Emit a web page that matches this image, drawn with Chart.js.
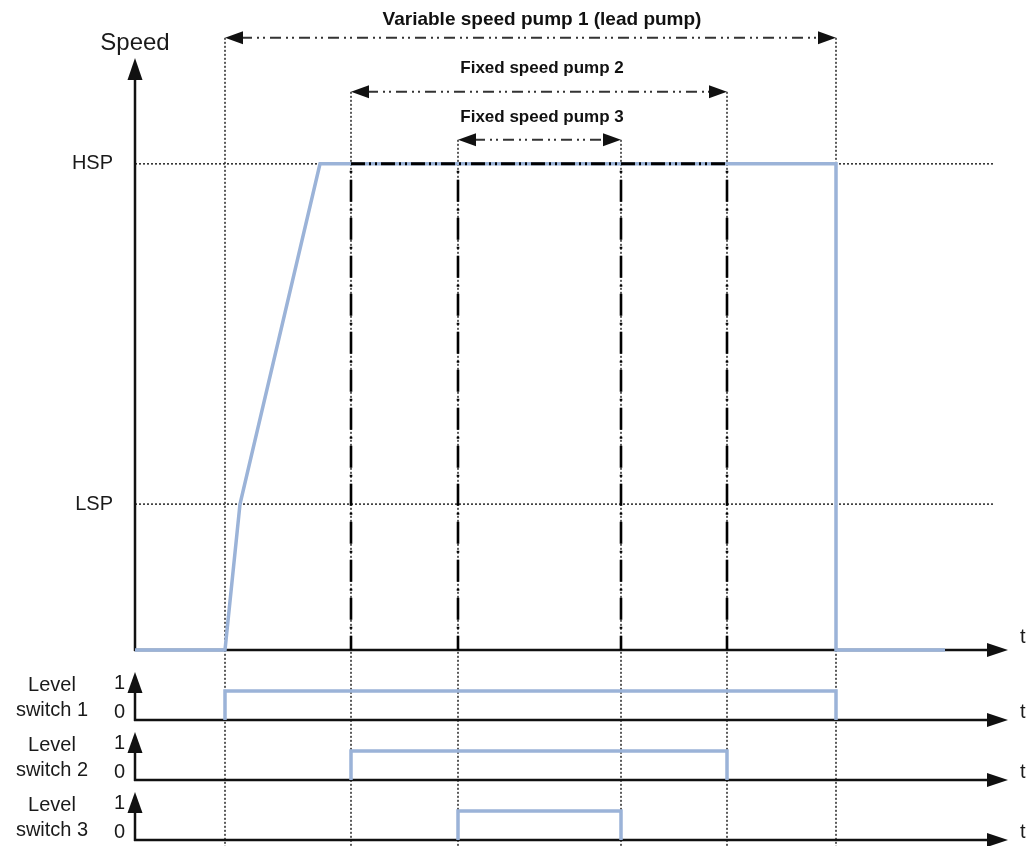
<!DOCTYPE html>
<html>
<head>
<meta charset="utf-8">
<title>Pump staging timing</title>
<script src="https://cdn.jsdelivr.net/npm/chart.js@4.4.0/dist/chart.umd.min.js"></script>
<style>
    html, body { margin: 0; padding: 0; background: #fff; }
    #wrap { position: relative; width: 1029px; height: 846px; }
</style>
</head>
<body>
<div id="wrap"><canvas id="pumpChart" width="1029" height="846"></canvas></div>
<script>
// Pump staging: speed of lead pump + level switches over time
const pumpNames = ['Variable speed pump 1 (lead pump)', 'Fixed speed pump 2', 'Fixed speed pump 3'];
const pumpStart = [9.0, 21.6, 32.3];
const pumpStop = [70.1, 59.2, 48.6];

const speedTime = [0, 9.0, 10.5, 18.5, 70.1, 70.1, 81.0];
const speedValue = [0, 0, 15, 50, 50, 0, 0];

const speedTicks = [15, 50];
const speedTickLabels = ['LSP', 'HSP'];

const switchNames = ['switch 1', 'switch 2', 'switch 3'];
const switchTicks = [0, 1];

const FONT = '"Liberation Sans", Arial, sans-serif';
const BLUE = '#9bb3d8';
const INK = '#111';

function arrowHead(ctx, x, y, dir, len, half) {
    ctx.beginPath();
    ctx.moveTo(x, y);
    if (dir === 'up') {
        ctx.lineTo(x - half, y + len);
        ctx.lineTo(x + half, y + len);
    } else if (dir === 'right') {
        ctx.lineTo(x - len, y - half);
        ctx.lineTo(x - len, y + half);
    } else {
        ctx.lineTo(x + len, y - half);
        ctx.lineTo(x + len, y + half);
    }
    ctx.closePath();
    ctx.fill();
}

function line(ctx, x1, y1, x2, y2) {
    ctx.beginPath();
    ctx.moveTo(x1, y1);
    ctx.lineTo(x2, y2);
    ctx.stroke();
}

// stacked axes all share the same fixed width and no label padding
function fixAxisBox(s) {
    s.width = 135;
    s.paddingTop = 0;
    s.paddingBottom = 0;
}

const diagramPlugin = {
    id: 'diagram',
    beforeDatasetsDraw(chart) {
        const { ctx, scales } = chart;
        const xs = scales.x, ys = scales.y;
        const sw = [scales.s1, scales.s2, scales.s3];
        const left = chart.chartArea.left;
        const tipX = xs.right - 21;
        const hspY = ys.getPixelForValue(speedTicks[1]);
        const zeroY = ys.getPixelForValue(0);
        const arrowY = [hspY - 126, hspY - 72, hspY - 24];
        const labelY = [hspY - 144, hspY - 96, hspY - 47];

        ctx.save();

        // dotted event lines
        ctx.strokeStyle = '#333';
        ctx.lineWidth = 1.6;
        ctx.setLineDash([2, 2]);
        pumpStart.forEach((t, i) => {
            line(ctx, xs.getPixelForValue(t), arrowY[i], xs.getPixelForValue(t), chart.height);
            line(ctx, xs.getPixelForValue(pumpStop[i]), arrowY[i], xs.getPixelForValue(pumpStop[i]), chart.height);
        });

        // HSP / LSP reference lines
        speedTicks.forEach(v => {
            const y = ys.getPixelForValue(v);
            line(ctx, left, y, xs.right - 34, y);
        });

        // pump running spans
        ctx.fillStyle = INK;
        pumpStart.forEach((t, i) => {
            const x1 = xs.getPixelForValue(t);
            const x2 = xs.getPixelForValue(pumpStop[i]);
            ctx.strokeStyle = '#333';
            ctx.lineWidth = 2;
            ctx.setLineDash([11, 5, 2, 4, 2, 5]);
            line(ctx, x1 + 16, arrowY[i], x2 - 16, arrowY[i]);
            ctx.setLineDash([]);
            arrowHead(ctx, x1, arrowY[i], 'left', 18, 6.5);
            arrowHead(ctx, x2, arrowY[i], 'right', 18, 6.5);

            ctx.font = (i === 0 ? 'bold 19px ' : 'bold 17px ') + FONT;
            ctx.textAlign = 'center';
            ctx.textBaseline = 'middle';
            ctx.fillText(pumpNames[i], xs.getPixelForValue(40.7), labelY[i]);
        });

        // axes
        ctx.setLineDash([]);
        ctx.strokeStyle = INK;
        ctx.lineWidth = 2.5;
        line(ctx, left, zeroY + 1, left, 76);
        arrowHead(ctx, left, 58, 'up', 22, 7.5);
        line(ctx, left - 1, zeroY, tipX - 18, zeroY);
        arrowHead(ctx, tipX, zeroY, 'right', 21, 7);

        sw.forEach(s => {
            const y0 = s.getPixelForValue(0);
            line(ctx, left, y0 + 1, left, y0 - 32);
            arrowHead(ctx, left, y0 - 48, 'up', 21, 7.5);
            line(ctx, left - 1, y0, tipX - 18, y0);
            arrowHead(ctx, tipX, y0, 'right', 21, 7);
        });

        // texts
        ctx.fillStyle = '#1a1a1a';
        ctx.font = '24px ' + FONT;
        ctx.textAlign = 'center';
        ctx.textBaseline = 'alphabetic';
        ctx.fillText('Speed', left, 50);

        ctx.font = '20px ' + FONT;
        ctx.textAlign = 'left';
        ctx.textBaseline = 'middle';
        ctx.fillText('t', 1020, zeroY - 12);
        sw.forEach(s => ctx.fillText('t', 1020, s.getPixelForValue(0) - 8));

        ctx.textAlign = 'center';
        sw.forEach((s, i) => {
            ctx.fillText('Level', 52, s.getPixelForValue(1) - 6);
            ctx.fillText(switchNames[i], 52, s.getPixelForValue(0) - 10);
        });

        ctx.restore();
    },
    afterDatasetsDraw(chart) {
        const { ctx, scales } = chart;
        const xs = scales.x, ys = scales.y;
        const hspY = ys.getPixelForValue(speedTicks[1]);
        const zeroY = ys.getPixelForValue(0);

        ctx.save();
        ctx.strokeStyle = '#000';

        // staging instants of the fixed speed pumps
        ctx.lineWidth = 2.6;
        ctx.setLineDash([22, 7, 2, 7]);
        ctx.lineDashOffset = 22;
        [pumpStart[1], pumpStart[2], pumpStop[2], pumpStop[1]].forEach(t => {
            const x = xs.getPixelForValue(t);
            line(ctx, x, hspY, x, zeroY);
        });

        // HSP hold while fixed pumps run
        ctx.lineWidth = 3;
        ctx.setLineDash([14, 4, 2, 4, 2, 4]);
        ctx.lineDashOffset = 0;
        line(ctx, xs.getPixelForValue(pumpStart[1]), hspY, xs.getPixelForValue(pumpStop[1]), hspY);
        ctx.restore();
    }
};

function switchScale(weight) {
    return {
        position: 'left',
        stack: 'diagram',
        stackWeight: 60,
        weight: weight,
        min: -0.207,
        max: 1.862,
        grid: { display: false, drawTicks: false },
        border: { display: false },
        afterBuildTicks: s => { s.ticks = switchTicks.map(v => ({ value: v })); },
        ticks: {
            autoSkip: false,
            padding: 10,
            labelOffset: -8,
            color: '#1a1a1a',
            font: { size: 20, family: FONT },
            callback: (v, i) => String(switchTicks[i])
        },
        afterFit: fixAxisBox
    };
}

function switchData(i) {
    return [
        { x: pumpStart[i], y: 0 },
        { x: pumpStart[i], y: 1 },
        { x: pumpStop[i], y: 1 },
        { x: pumpStop[i], y: 0 }
    ];
}

const lineStyle = {
    borderColor: BLUE,
    borderWidth: 3.5,
    pointRadius: 0,
    tension: 0,
    fill: false,
    borderJoinStyle: 'miter',
    borderCapStyle: 'butt',
    clip: false
};

new Chart(document.getElementById('pumpChart'), {
    type: 'line',
    data: {
        datasets: [
            { ...lineStyle, label: 'Speed', yAxisID: 'y', data: speedTime.map((t, i) => ({ x: t, y: speedValue[i] })) },
            { ...lineStyle, label: 'Level switch 1', yAxisID: 's1', data: switchData(0) },
            { ...lineStyle, label: 'Level switch 2', yAxisID: 's2', data: switchData(1) },
            { ...lineStyle, label: 'Level switch 3', yAxisID: 's3', data: switchData(2) }
        ]
    },
    options: {
        responsive: false,
        animation: false,
        events: [],
        layout: { padding: 0 },
        plugins: {
            legend: { display: false },
            tooltip: { enabled: false }
        },
        scales: {
            x: { type: 'linear', min: 0, max: 89.4, display: false },
            y: {
                position: 'left',
                stack: 'diagram',
                stackWeight: 666,
                weight: 4,
                min: -1.65,
                max: 66.85,
                grid: { display: false, drawTicks: false },
                border: { display: false },
                afterBuildTicks: s => { s.ticks = speedTicks.map(v => ({ value: v })); },
                ticks: {
                    autoSkip: false,
                    padding: 22,
                    color: '#1a1a1a',
                    font: { size: 20, family: FONT },
                    callback: (v, i) => speedTickLabels[i]
                },
                afterFit: fixAxisBox
            },
            s1: switchScale(3),
            s2: switchScale(2),
            s3: switchScale(1)
        }
    },
    plugins: [diagramPlugin]
});
</script>
</body>
</html>
